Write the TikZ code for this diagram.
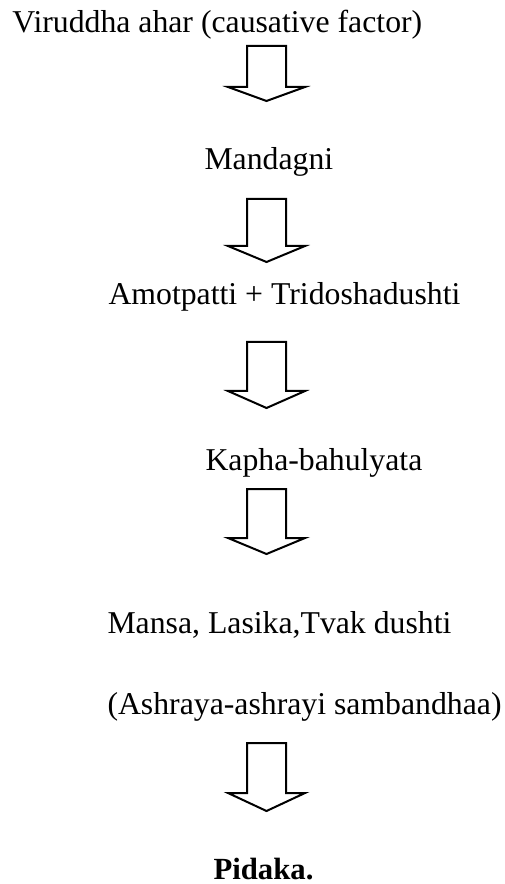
\documentclass[tikz,border=0pt]{standalone}
\usepackage{fontspec}
\setmainfont{Liberation Serif}
\usepackage{tikz}
\usetikzlibrary{positioning}

\tikzset{
    stage/.style={anchor=base west, inner sep=0pt, font=\fontsize{12.7}{15}\selectfont},
    hollow/.style={draw=black, line width=0.8pt, fill=white, line join=miter}
}

\begin{document}
\begin{tikzpicture}[x=0.4pt, y=-0.4pt]
    \useasboundingbox (0,0) rectangle (505,884);

    % the chain of stages, top to bottom
    \node[stage] (cause)    at (12,33)   {Viruddha ahar (causative factor)};
    \node[stage] (agni)     at (204,170) {Mandagni};
    \node[stage] (ama)      at (108,305) {Amotpatti + Tridoshadushti};
    \node[stage] (kapha)    at (205,470) {Kapha-bahulyata};
    \node[stage] (dushti)   at (107,633) {Mansa, Lasika,Tvak dushti};
    \node[stage] (ashraya)  at (107,714) {(Ashraya-ashrayi sambandhaa)};
    \node[stage, font=\fontsize{12.3}{15}\selectfont\bfseries] (pidaka) at (213,879) {Pidaka.};

    % hollow block arrows between the stages: top / neck / tip
    \foreach \top/\neck/\tip in {46/87/101, 199/246/262, 342/391/408, 489/538/554, 743/793/811}
    \draw[hollow] (247,\top) -- (286,\top) -- (286,\neck) -- (305,\neck) -- (266.5,\tip)
        -- (228,\neck) -- (247,\neck) -- cycle;

\end{tikzpicture}
\end{document}
